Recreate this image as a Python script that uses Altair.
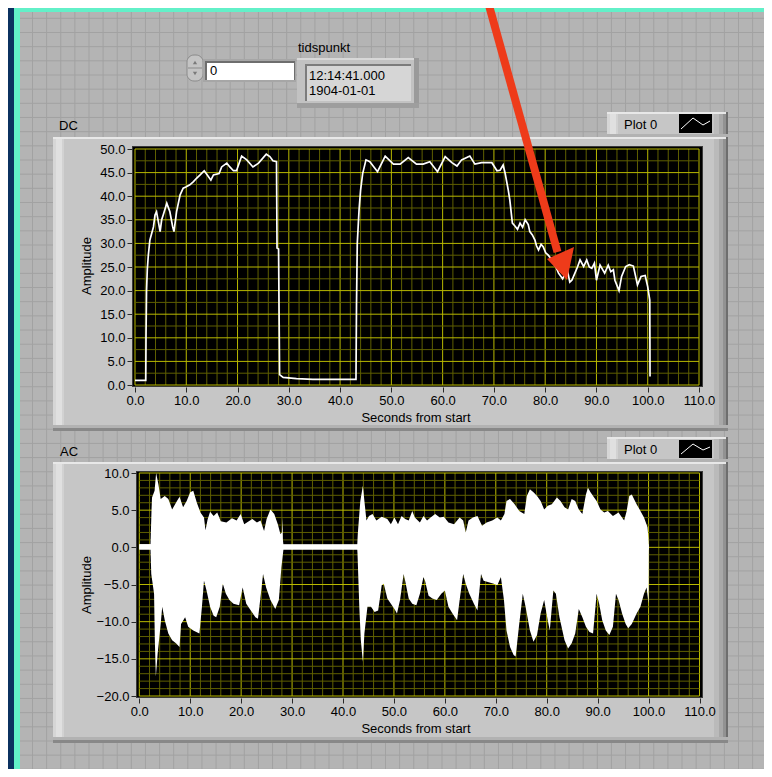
import altair as alt
import pandas as pd

# ---------------- data ----------------
# DC trace (seconds, amplitude)
dc_t = [0.0, 2.1, 2.15, 2.25, 2.4, 2.6, 2.9, 3.25, 3.6, 3.9,
        4.2, 4.55, 4.9, 5.2, 5.5, 6.2, 6.8, 7.35, 7.6, 8.1,
        8.8, 9.4, 10.0, 10.7, 11.4, 12.0, 12.7, 13.5, 14.1, 14.8,
        15.3, 16.4, 16.9, 17.9, 18.5, 19.2, 19.8, 20.8, 21.8, 23.0,
        24.1, 25.6, 26.3, 26.9, 27.6, 27.7, 28.0, 28.2, 28.9, 31.5,
        34.7, 38.0, 43.1, 43.2, 43.35, 43.7, 44.0, 44.4, 45.05, 45.8,
        47.3, 48.8, 50.4, 51.7, 53.3, 54.9, 56.2, 57.5, 59.0, 60.5,
        61.8, 62.8, 63.7, 65.3, 66.3, 67.6, 69.6, 70.6, 71.2, 71.8,
        72.2, 72.8, 73.1, 73.6, 74.1, 74.6, 75.1, 75.6, 76.1, 76.7,
        77.0, 77.5, 78.0, 78.3, 78.7, 79.2, 79.6, 80.1, 80.6, 81.1,
        81.6, 82.1, 82.6, 83.4, 84.3, 84.8, 85.2, 85.8, 86.3, 86.8,
        87.5, 88.1, 88.6, 89.1, 89.6, 90.0, 90.7, 91.6, 92.3, 92.8,
        93.3, 93.6, 94.4, 94.9, 95.7, 96.4, 97.2, 98.0, 98.7, 99.5,
        100.0, 100.4, 100.45]
dc_v = [1.0, 1.0, 10.5, 20.0, 24.5, 27.5, 30.7, 32.1, 33.5, 36.0,
        36.7, 34.6, 32.5, 35.0, 36.0, 38.5, 36.7, 33.5, 32.5, 36.7,
        40.3, 41.7, 42.0, 42.4, 43.1, 43.8, 44.5, 45.4, 44.5, 43.4,
        44.5, 44.8, 46.2, 47.0, 46.2, 45.4, 45.4, 48.5, 47.7, 46.2,
        47.0, 48.9, 48.4, 47.5, 47.3, 29.0, 28.8, 2.2, 1.6, 1.35,
        1.2, 1.2, 1.2, 16.9, 30.0, 37.1, 41.3, 44.8, 47.7, 47.3,
        45.2, 48.5, 46.8, 46.8, 48.2, 46.8, 46.8, 47.3, 45.2, 48.4,
        47.1, 46.4, 47.7, 48.5, 46.8, 47.1, 47.1, 45.4, 45.5, 46.6,
        44.8, 41.3, 39.2, 34.3, 33.7, 33.0, 34.3, 33.4, 35.0, 34.0,
        32.5, 31.8, 30.7, 29.5, 28.6, 29.8, 29.3, 28.0, 27.5, 26.8,
        25.8, 25.0, 23.7, 22.5, 24.5, 21.8, 22.2, 23.7, 25.0, 26.5,
        25.1, 26.5, 25.0, 24.7, 25.8, 22.2, 25.4, 23.7, 25.4, 24.0,
        24.4, 22.2, 20.0, 23.0, 25.1, 25.5, 25.2, 21.2, 23.0, 23.2,
        20.8, 18.0, 1.8]

# AC envelope: upper edge (seconds, amplitude)
ac_upper = [(0.0, 0.4), (2.2, 0.4), (2.4, 5.0), (2.5, 6.7), (3.0, 7.6), (3.3, 10.0),
            (3.75, 8.5), (4.2, 6.5), (5.0, 6.9), (5.7, 6.5), (6.45, 5.1), (7.2, 6.0),
            (7.9, 6.8), (8.6, 5.4), (9.3, 6.25), (10.0, 7.4), (10.6, 7.6), (11.3, 6.0),
            (12.0, 4.7), (12.7, 4.0), (13.0, 2.3), (13.4, 3.7), (13.9, 4.8), (14.6, 4.2),
            (15.3, 4.7), (16.0, 3.5), (17.1, 3.35), (18.2, 3.9), (19.1, 3.6), (19.9, 4.5),
            (20.6, 3.1), (21.5, 3.5), (22.2, 3.8), (23.1, 3.35), (23.8, 3.6), (24.5, 2.2),
            (25.0, 3.8), (25.75, 5.1), (26.5, 4.5), (27.2, 3.1), (27.7, 1.8), (28.0, 2.0),
            (28.1, 4.0), (28.2, 1.0), (28.3, 0.35), (42.8, 0.35), (42.9, 1.8), (43.4, 6.25),
            (43.9, 8.3), (44.2, 6.25), (44.6, 3.6), (45.1, 4.2), (45.8, 4.5), (46.55, 3.6),
            (47.6, 4.1), (48.7, 3.8), (49.4, 3.1), (50.1, 4.0), (50.8, 3.1), (51.5, 4.2),
            (52.2, 3.8), (52.9, 3.6), (53.6, 4.9), (54.1, 4.0), (55.1, 3.35), (55.8, 4.2),
            (56.5, 3.6), (57.2, 4.0), (58.1, 4.5), (59.0, 4.0), (59.8, 4.1), (60.7, 3.35),
            (61.8, 3.1), (62.9, 4.0), (63.6, 3.6), (64.1, 2.0), (64.65, 3.6), (65.5, 4.0),
            (66.4, 4.2), (67.3, 2.9), (68.2, 3.35), (69.3, 3.6), (70.3, 4.0), (71.0, 3.6),
            (71.7, 4.5), (72.1, 6.25), (72.8, 6.5), (73.7, 5.8), (74.6, 4.9), (75.6, 4.5),
            (76.1, 6.9), (76.7, 7.8), (77.4, 7.4), (78.1, 6.9), (78.8, 6.25), (79.5, 5.1),
            (80.2, 5.6), (81.0, 5.8), (82.0, 6.7), (82.7, 6.25), (83.5, 5.4), (84.2, 5.1),
            (84.9, 6.5), (85.6, 6.25), (86.3, 5.1), (87.0, 4.5), (87.7, 7.1), (88.1, 8.0),
            (88.6, 7.4), (89.3, 6.7), (89.8, 6.25), (90.55, 5.1), (91.3, 4.7), (92.0, 4.9),
            (93.0, 4.2), (94.1, 4.7), (95.2, 3.6), (95.7, 4.9), (96.2, 6.9), (96.7, 7.1),
            (97.65, 5.8), (98.4, 4.9), (99.1, 4.0), (99.8, 2.7), (100.0, 1.0), (100.05, 0.0)]

# AC envelope: lower edge (seconds, amplitude)
ac_lower = [(0.0, -0.3), (2.2, -0.3), (2.35, -3.6), (2.9, -6.25), (3.05, -12.5), (3.25, -17.4),
            (3.6, -14.3), (4.2, -10.3), (4.5, -8.0), (5.0, -9.8), (5.7, -11.6), (6.45, -12.5),
            (7.2, -12.9), (7.9, -13.4), (8.2, -10.3), (9.0, -9.4), (9.6, -10.7), (10.6, -11.2),
            (11.8, -11.6), (12.3, -8.0), (12.7, -4.5), (13.2, -5.8), (13.9, -8.0), (14.6, -9.2),
            (15.1, -9.4), (15.8, -8.0), (16.4, -4.9), (17.0, -6.25), (17.7, -7.1), (18.5, -7.6),
            (19.6, -7.8), (20.3, -5.4), (21.0, -7.6), (21.9, -8.5), (22.8, -9.4), (23.3, -9.6),
            (23.8, -6.7), (24.3, -3.6), (24.9, -5.4), (25.75, -7.1), (26.7, -8.3), (27.4, -7.1),
            (27.9, -2.7), (28.3, -0.3), (42.8, -0.3), (42.85, -0.9), (43.2, -8.0), (43.5, -12.5),
            (43.9, -15.4), (44.2, -11.6), (44.8, -8.0), (45.5, -8.0), (46.2, -8.7), (46.9, -8.5),
            (47.6, -5.1), (48.0, -4.9), (48.7, -6.9), (49.4, -7.6), (50.1, -8.3), (50.6, -8.9),
            (51.2, -7.1), (51.9, -3.6), (52.2, -4.5), (52.9, -6.9), (53.6, -7.6), (54.4, -7.8),
            (55.1, -6.25), (55.8, -4.0), (56.1, -4.5), (56.8, -6.5), (57.55, -6.9), (58.4, -7.1),
            (59.3, -6.25), (60.0, -5.8), (60.7, -8.0), (61.5, -8.9), (62.4, -9.8), (62.9, -7.1),
            (63.6, -3.6), (64.1, -4.9), (64.8, -6.25), (65.7, -7.6), (66.4, -8.5), (67.1, -3.6),
            (67.6, -4.5), (68.6, -4.7), (69.6, -4.9), (70.3, -5.1), (71.0, -4.0), (71.6, -7.1),
            (72.1, -11.2), (72.8, -13.4), (73.5, -14.5), (73.9, -14.7), (74.6, -10.3), (75.3, -6.25),
            (75.85, -8.0), (76.7, -11.2), (77.4, -12.7), (78.1, -11.8), (78.8, -8.9), (79.5, -7.1),
            (80.2, -9.8), (80.6, -11.2), (81.3, -5.8), (81.8, -6.25), (82.5, -9.4), (83.5, -12.5),
            (84.2, -13.6), (84.9, -12.9), (85.6, -11.6), (86.3, -8.3), (87.0, -9.4), (87.7, -10.7),
            (88.4, -11.4), (89.1, -11.6), (89.8, -6.25), (90.3, -7.6), (90.9, -9.8), (91.6, -11.2),
            (92.3, -11.8), (93.0, -10.7), (93.6, -6.25), (94.1, -7.1), (94.8, -8.9), (95.5, -10.3),
            (96.0, -10.9), (96.7, -10.3), (97.65, -8.9), (98.4, -8.0), (99.1, -6.25), (99.6, -5.4),
            (100.0, -7.6), (100.05, 0.0)]

x_ticks = [0, 10, 20, 30, 40, 50, 60, 70, 80, 90, 100, 110]
x_minor = [2, 4, 6, 8, 12, 14, 16, 18, 22, 24, 26, 28, 32, 34, 36, 38, 42, 44, 46, 48,
           52, 54, 56, 58, 62, 64, 66, 68, 72, 74, 76, 78, 82, 84, 86, 88, 92, 94, 96, 98,
           102, 104, 106, 108]
dc_y_ticks = [0, 5, 10, 15, 20, 25, 30, 35, 40, 45, 50]
dc_y_minor = [2.5, 7.5, 12.5, 17.5, 22.5, 27.5, 32.5, 37.5, 42.5, 47.5]
ac_y_ticks = [-20, -15, -10, -5, 0, 5, 10]
ac_y_minor = [-19, -18, -17, -16, -14, -13, -12, -11, -9, -8, -7, -6, -4, -3, -2, -1,
              1, 2, 3, 4, 6, 7, 8, 9]

texts = {"dc": "DC", "ac": "AC", "ytitle": "Amplitude", "xtitle": "Seconds from start",
         "legend": "Plot 0", "stamp_label": "tidspunkt", "time": "12:14:41.000",
         "date": "1904-01-01", "index": "0"}

# ---------------- layout / style ----------------
FONT = "Liberation Sans"
W, H = 756, 761
OFF = 8
MAJOR = "#B9B900"
MINOR = "#5F5F00"
RED = "#EE3B1A"
ONE = pd.DataFrame({"k": [0]})


def px(v):
    return v - OFF


def rect(x1, y1, x2, y2, fill, stroke=None, sw=1, radius=0):
    kw = dict(fill=fill, opacity=1)
    if stroke:
        kw.update(stroke=stroke, strokeWidth=sw)
    if radius:
        kw["cornerRadius"] = radius
    return alt.Chart(ONE).mark_rect(**kw).encode(
        x=alt.value(px(x1)), x2=alt.value(px(x2)), y=alt.value(px(y1)), y2=alt.value(px(y2)))


def seg(x1, y1, x2, y2, color, w=1):
    return alt.Chart(ONE).mark_rule(color=color, strokeWidth=w, strokeCap="butt").encode(
        x=alt.value(px(x1)), x2=alt.value(px(x2)), y=alt.value(px(y1)), y2=alt.value(px(y2)))


def label(x, y, s, size=13, align="left", angle=0, color="#000000"):
    kw = dict(text=s, font=FONT, fontSize=size, align=align, baseline="middle", color=color)
    if angle:
        kw["angle"] = angle
    return alt.Chart(ONE).mark_text(**kw).encode(x=alt.value(px(x)), y=alt.value(px(y)))


def symbol(x, y, shape, size, color):
    return alt.Chart(ONE).mark_point(shape=shape, size=size, filled=True, color=color,
                                     opacity=1, strokeWidth=0).encode(
        x=alt.value(px(x)), y=alt.value(px(y)))


def panel(x1, y1, x2, y2):
    return [
        rect(x1, y1, x2, y2, "#C6C6C6"),
        rect(x1, y1, x1 + 3, y2, "#D6D6D6"),
        rect(x1 + 3, y1, x1 + 9, y2, "#E0E0E0"),
        rect(x1 + 9, y1, x1 + 11, y2, "#D2D2D2"),
        rect(x2 - 14, y1, x2 - 9, y2, "#BABABA"),
        rect(x2 - 9, y1, x2 - 5, y2, "#A8A8A8"),
        rect(x2 - 5, y1, x2 - 2, y2, "#929292"),
        rect(x2 - 2, y1, x2, y2, "#6E6E6E"),
        rect(x1, y1, x2 - 2, y1 + 2, "#E8E8E8"),
        rect(x1, y2 - 6, x2, y2 - 3, "#B2B2B2"),
        rect(x1, y2 - 3, x2, y2, "#888888"),
    ]


def legend_tab(x1, y1, x2, y2, sx1, sy1, sx2, sy2):
    icon = [(sx1 + 2, sy2 - 4), (sx1 + 14, sy1 + 4), (sx1 + 24, sy2 - 8), (sx2 - 2, sy1 + 7)]
    out = panel(x1, y1, x2, y2 + 3)
    out.append(rect(sx1, sy1, sx2, sy2, "#000000"))
    for (a, b), (c, d) in zip(icon[:-1], icon[1:]):
        out.append(seg(a, b, c, d, "#FFFFFF", 1))
    out.append(label(x1 + 17, (y1 + y2) / 2, texts["legend"]))
    return out


# background grid of the front panel (decoration)
bg_vx = [px(32.5 + 14.12 * k) for k in range(-1, 55) if 20 < 32.5 + 14.12 * k < 765]
bg_hy = [px(18.3 + 14.17 * k) for k in range(0, 56) if 12 < 18.3 + 14.17 * k < 775]
pix_x = alt.Scale(domain=[0, W], range=[0, W], nice=False, zero=False)
pix_y = alt.Scale(domain=[0, H], range=[0, H], nice=False, zero=False)
bg_grid_v = alt.Chart(pd.DataFrame({"p": bg_vx})).mark_rule(color="#A2A2A2", strokeWidth=1).encode(
    x=alt.X("p:Q", scale=pix_x, axis=None), y=alt.value(px(12)), y2=alt.value(px(775)))
bg_grid_h = alt.Chart(pd.DataFrame({"p": bg_hy})).mark_rule(color="#A2A2A2", strokeWidth=1).encode(
    y=alt.Y("p:Q", scale=pix_y, axis=None), x=alt.value(px(20)), x2=alt.value(px(765)))


def plot_group(xs, ys, xaxis, yaxis, y_lo, y_hi, y_minor, y_major, traces):
    layers = []
    # vertical grid lines
    for vals, col in ((x_minor, MINOR), (x_ticks, MAJOR)):
        df = pd.DataFrame({"v": vals, "a": y_lo, "b": y_hi})
        layers.append(alt.Chart(df).mark_rule(color=col, strokeWidth=1).encode(
            x=alt.X("v:Q", scale=xs, axis=xaxis), y=alt.Y("a:Q", scale=ys, axis=yaxis), y2="b:Q"))
    # horizontal grid lines
    for vals, col in ((y_minor, MINOR), (y_major, MAJOR)):
        df = pd.DataFrame({"v": vals, "a": 0, "b": 110})
        layers.append(alt.Chart(df).mark_rule(color=col, strokeWidth=1).encode(
            y=alt.Y("v:Q", scale=ys, axis=yaxis), x=alt.X("a:Q", scale=xs, axis=xaxis), x2="b:Q"))
    layers.extend(traces(xs, ys, xaxis, yaxis))
    return alt.layer(*layers)


# ---- DC chart ----
dcx = alt.Scale(domain=[0, 110], range=[px(135), px(699)], nice=False, zero=False)
dcy = alt.Scale(domain=[0, 50], range=[px(385), px(149)], nice=False, zero=False)
dc_xaxis = alt.Axis(orient="bottom", offset=px(387) - H, values=x_ticks, format=".1f", title=None,
                    labelFlush=False, labelOverlap=False, zindex=2)
dc_yaxis = alt.Axis(orient="left", offset=-px(132), values=dc_y_ticks, format=".1f", title=None,
                    labelOverlap=False, zindex=2)


def dc_traces(xs, ys, xa, ya):
    df = pd.DataFrame({"t": dc_t, "v": dc_v})
    return [alt.Chart(df).mark_line(color="#FFFFFF", strokeWidth=1.7).encode(
        x=alt.X("t:Q", scale=xs, axis=xa), y=alt.Y("v:Q", scale=ys, axis=ya))]


dc_group = plot_group(dcx, dcy, dc_xaxis, dc_yaxis, 0, 50, dc_y_minor, dc_y_ticks, dc_traces)

# ---- AC chart ----
acx = alt.Scale(domain=[0, 110], range=[px(139.3), px(699.5)], nice=False, zero=False)
acy = alt.Scale(domain=[-20, 10], range=[px(696), px(473)], nice=False, zero=False)
ac_xaxis = alt.Axis(orient="bottom", offset=px(698) - H, values=x_ticks, format=".1f", title=None,
                    labelFlush=False, labelOverlap=False, zindex=2)
ac_yaxis = alt.Axis(orient="left", offset=-px(136), values=ac_y_ticks, format=".1f", title=None,
                    labelOverlap=False, zindex=2)


def ac_traces(xs, ys, xa, ya):
    out = []
    # each half of the envelope is filled towards the opposite quiet edge so the halves overlap
    for pairs, base in ((ac_upper, ac_lower[0][1]), (ac_lower, ac_upper[0][1])):
        df = pd.DataFrame({"t": [p[0] for p in pairs], "v": [p[1] for p in pairs], "z": base})
        out.append(alt.Chart(df).mark_area(color="#FFFFFF", opacity=1).encode(
            x=alt.X("t:Q", scale=xs, axis=xa), y=alt.Y("v:Q", scale=ys, axis=ya), y2="z:Q"))
    return out


ac_group = plot_group(acx, acy, ac_xaxis, ac_yaxis, -20, 10, ac_y_minor, ac_y_ticks, ac_traces)

# ---------------- assemble ----------------
layers = [
    rect(14, 6, 790, 800, "#62F0C8"),
    rect(20, 12, 765, 775, "#B4B4B4"),
    bg_grid_v, bg_grid_h,
    # numeric control
    rect(187, 55, 203, 81, "#C4C4C4", stroke="#8A8A8A", sw=1, radius=7),
    seg(188, 68, 202, 68, "#8A8A8A", 1),
    symbol(195, 62.5, "triangle-up", 18, "#7A7A7A"),
    symbol(195, 73.5, "triangle-down", 18, "#7A7A7A"),
    rect(203, 59, 296, 82, "#A6A6A6"),
    rect(205, 61, 295, 80, "#6E6E6E"),
    rect(207, 63, 294, 80, "#FFFFFF"),
    label(210, 71, texts["index"]),
    # time stamp indicator
    label(298, 48, texts["stamp_label"]),
    rect(297, 58, 419, 108, "#C2C2C2"),
    rect(297, 58, 419, 60, "#D8D8D8"),
    rect(414, 58, 419, 108, "#9A9A9A"),
    rect(297, 103, 419, 108, "#9E9E9E"),
    rect(305, 64, 411, 101, "#7C7C7C"),
    rect(307, 66, 411, 101, "#D6D6D6"),
    label(309, 75.5, texts["time"]),
    label(309, 91, texts["date"]),
    # DC frame
    label(59, 126, texts["dc"]),
]
layers += legend_tab(607, 112, 728, 137, 679, 114, 712, 133)
layers += panel(53, 137, 728, 431)
layers += [
    rect(132, 146, 703, 387, "#3A3A3A"),
    rect(133, 147, 702, 386, "#000000"),
    dc_group,
    label(87, 266, texts["ytitle"], angle=270, align="center"),
    label(416, 418, texts["xtitle"], align="center"),
    label(60, 451.5, texts["ac"]),
]
layers += legend_tab(607, 437, 728, 462, 679, 440, 712, 458)
layers += panel(53, 462, 728, 743)
layers += [
    rect(136, 471, 703, 698, "#3A3A3A"),
    rect(137, 472, 702, 697, "#000000"),
    ac_group,
    label(87, 585, texts["ytitle"], angle=270, align="center"),
    label(416, 729, texts["xtitle"], align="center"),
    # red annotation arrow
    seg(487.5, 0, 557.5, 252, RED, 8),
    alt.Chart(ONE).mark_point(shape="M0.45,0.9L-0.55,-0.15L0.8,-0.75Z", size=1600, filled=True,
                              color=RED, opacity=1, strokeWidth=0).encode(
        x=alt.value(px(558)), y=alt.value(px(262))),
]

chart = alt.layer(*layers).resolve_scale(x="independent", y="independent").properties(
    width=W, height=H, padding=0, background="#0B3160",
    autosize=alt.AutoSizeParams(type="none"),
).configure_view(strokeWidth=0).configure_axis(
    domain=False, grid=False, ticks=True, tickSize=5, tickColor="#2A2A2A", tickWidth=1,
    labelFont=FONT, labelFontSize=13, labelColor="#000000", labelPadding=2,
)

chart.save("out.html", embed_options={"renderer": "svg", "actions": False})
